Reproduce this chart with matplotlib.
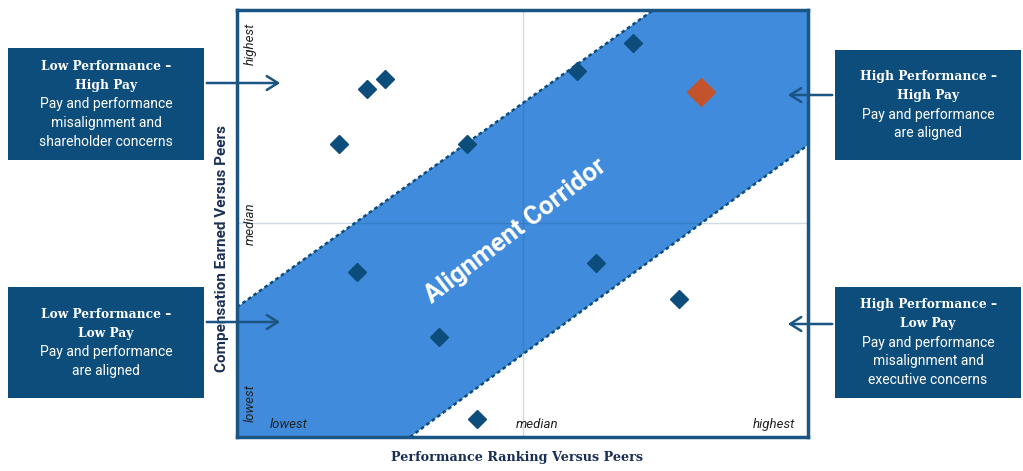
import matplotlib
matplotlib.use("Agg")
import matplotlib.pyplot as plt
from matplotlib.patches import Rectangle, Polygon, FancyArrowPatch

# ---- data (0-100 scale: performance percentile, pay percentile) ----
perf_x = [69.4, 59.5, 25.9, 22.8, 17.9, 40.3, 21.0, 62.9, 77.4, 35.4, 42.0]
pay_y = [92.3, 85.7, 83.8, 81.5, 68.6, 68.6, 38.6, 40.7, 32.3, 23.4, 4.2]
focus_x = [81.3]
focus_y = [80.8]
corridor_upper_x = [0.0, 72.9]
corridor_upper_y = [30.4, 100.0]
corridor_lower_x = [30.3, 100.0]
corridor_lower_y = [0.0, 68.4]
tick_labels = ["lowest", "median", "highest"]
x_label = "Performance Ranking Versus Peers"
y_label = "Compensation Earned Versus Peers"
corridor_label = "Alignment Corridor"
box_headers = ["Low Performance \u2013\nHigh Pay", "High Performance \u2013\nHigh Pay",
               "Low Performance \u2013\nLow Pay", "High Performance \u2013\nLow Pay"]
box_bodies = ["Pay and performance\nmisalignment and\nshareholder concerns",
              "Pay and performance\nare aligned",
              "Pay and performance\nare aligned",
              "Pay and performance\nmisalignment and\nexecutive concerns"]

NAVY = "#0d4d7c"
FRAME = "#1b5584"
BAND = "#418bdc"
ORANGE = "#c3532d"

W, H = 1023, 471
fig = plt.figure(figsize=(W / 100, H / 100), dpi=100)
ax = fig.add_axes([237 / W, 1 - 437 / H, 571 / W, 427 / H])
ax.set_xlim(0, 100)
ax.set_ylim(0, 100)
ax.set_xticks([])
ax.set_yticks([])
for s in ax.spines.values():
    s.set_color(FRAME)
    s.set_linewidth(2.5)
    s.set_zorder(10)

# corridor
poly = [(0, 0), (corridor_upper_x[0], corridor_upper_y[0]),
        (corridor_upper_x[1], corridor_upper_y[1]), (100, 100),
        (corridor_lower_x[1], corridor_lower_y[1]),
        (corridor_lower_x[0], corridor_lower_y[0])]
ax.add_patch(Polygon(poly, closed=True, facecolor=BAND, edgecolor="none", zorder=1))
ax.plot(corridor_upper_x, corridor_upper_y, color=NAVY, lw=1.8, ls=(0, (1.5, 1.2)), zorder=2)
ax.plot(corridor_lower_x, corridor_lower_y, color=NAVY, lw=1.8, ls=(0, (1.5, 1.2)), zorder=2)

# median lines
ax.axvline(50, color=NAVY, alpha=0.2, lw=1.0, zorder=1.5)
ax.axhline(50, color=NAVY, alpha=0.2, lw=1.0, zorder=1.5)

# points
ax.plot(perf_x, pay_y, ls="none", marker="D", ms=9.5, color=NAVY, zorder=5)
ax.plot(focus_x, focus_y, ls="none", marker="D", ms=14.5, color=ORANGE, zorder=5)

# corridor label
ax.text(48.8, 48.2, corridor_label, rotation=37.5, ha="center", va="center",
        rotation_mode="anchor", color="white", fontsize=18.5, fontweight="bold",
        family="Roboto", zorder=6)

# axis value labels
lab_kw = dict(fontsize=9.5, fontstyle="italic", color="#222222", family="Roboto")
ax.text(2.3, 92, tick_labels[2], rotation=90, ha="center", va="center", **lab_kw)
ax.text(2.3, 50, tick_labels[1], rotation=90, ha="center", va="center", **lab_kw)
ax.text(2.3, 8, tick_labels[0], rotation=90, ha="center", va="center", **lab_kw)
ax.text(9, 3, tick_labels[0], ha="center", va="center", **lab_kw)
ax.text(52.5, 3, tick_labels[1], ha="center", va="center", **lab_kw)
ax.text(94, 3, tick_labels[2], ha="center", va="center", **lab_kw)

fig.text(517 / W, 1 - 458 / H, x_label, ha="center", va="center", fontsize=9.2,
         fontweight="bold", color="#1a2f55", family="DejaVu Serif")
fig.text(222 / W, 1 - 248 / H, y_label, ha="center", va="center", rotation=90,
         fontsize=11, fontweight="bold", color="#1a2f55", family="Roboto")

# side boxes
boxes = [(8, 48, 204, 160), (835, 50, 1021, 160), (8, 287, 204, 398), (835, 287, 1021, 398)]
for (x0, y0, x1, y1), head, body in zip(boxes, box_headers, box_bodies):
    fig.patches.append(Rectangle((x0 / W, 1 - y1 / H), (x1 - x0) / W, (y1 - y0) / H,
                                 transform=fig.transFigure, facecolor=NAVY,
                                 edgecolor="none", zorder=1))
    cx = (x0 + x1) / 2 / W
    nh = head.count("\n") + 1
    nb = body.count("\n") + 1
    total = nh + nb
    lh = 19
    ytop = (y0 + y1) / 2 - total * lh / 2
    for i, line in enumerate(head.split("\n")):
        fig.text(cx, 1 - (ytop + lh * (i + 0.5)) / H, line, ha="center", va="center",
                 color="white", fontsize=8.8, fontweight="bold", family="DejaVu Serif")
    for j, line in enumerate(body.split("\n")):
        fig.text(cx, 1 - (ytop + lh * (nh + j + 0.5)) / H, line, ha="center", va="center",
                 color="white", fontsize=10, family="Roboto")

# arrows
arrows = [((204, 83), (283, 83)), ((204, 322), (283, 322)),
          ((835, 95), (785, 95)), ((835, 324), (785, 324))]
for (sx, sy), (ex, ey) in arrows:
    fig.add_artist(FancyArrowPatch(
        (sx / W, 1 - sy / H), (ex / W, 1 - ey / H), transform=fig.transFigure,
        arrowstyle="->,head_length=8,head_width=5", color=FRAME, lw=1.8,
        mutation_scale=1, zorder=20))

fig.savefig("out.png", dpi=100)
